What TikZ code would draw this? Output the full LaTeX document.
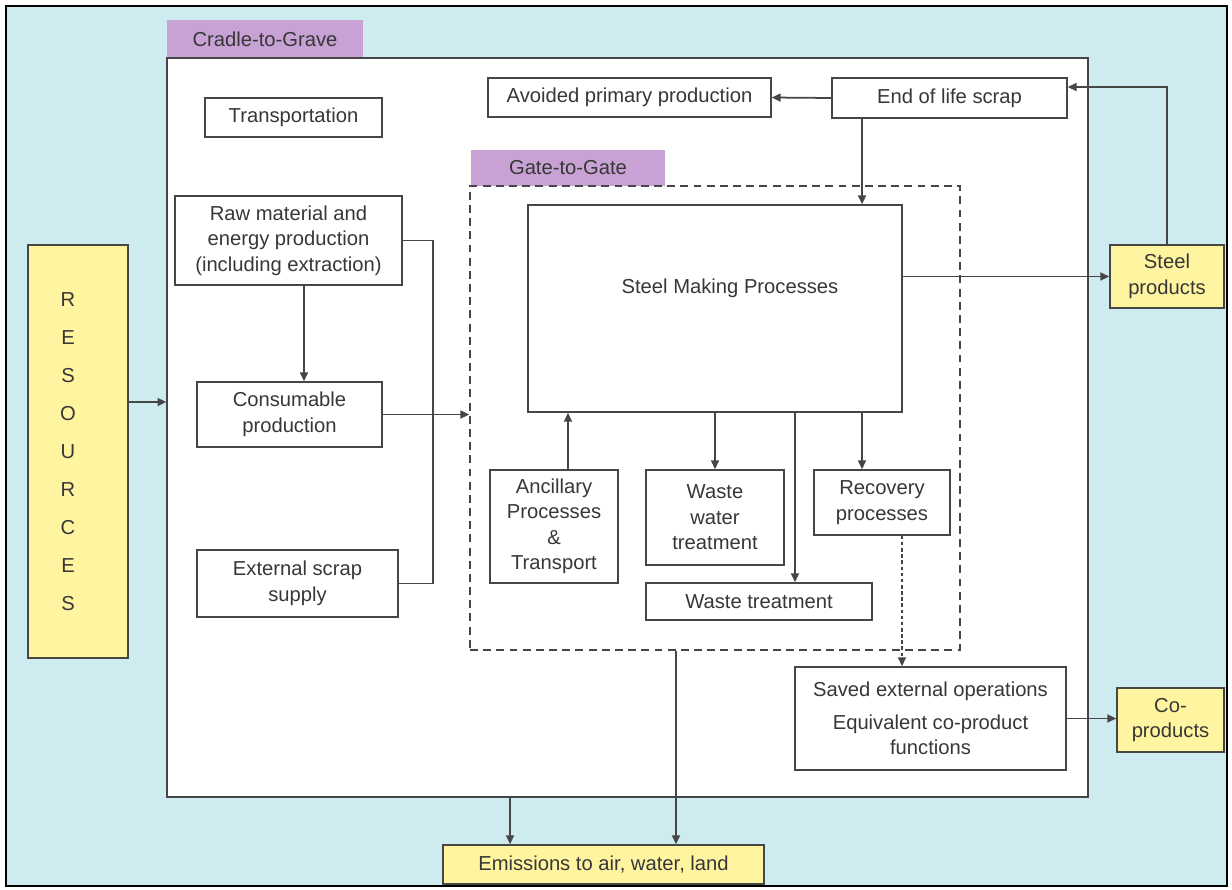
\documentclass[tikz,border=0pt]{standalone}
\usepackage{fontspec}
\setmainfont{Liberation Sans}
\usetikzlibrary{arrows.meta}
\definecolor{bgcyan}{RGB}{206,236,240}
\definecolor{tabpurple}{RGB}{200,162,212}
\definecolor{resyellow}{RGB}{255,244,160}
\definecolor{linegray}{RGB}{70,70,70}
\definecolor{txtgray}{RGB}{55,55,55}
\tikzset{
  box/.style={draw=linegray, line width=0.9pt, fill=white, align=center, inner sep=2pt, text=txtgray},
  ybox/.style={box, fill=resyellow},
  tab/.style={fill=tabpurple, text=txtgray, inner sep=0pt},
  conn/.style={draw=linegray, line width=1pt},
  arr/.style={conn, -{Triangle[length=5pt,width=4.5pt]}}
}
\begin{document}
\begin{tikzpicture}[x=0.02cm, y=-0.02cm, every node/.style={font=\fontsize{11.5}{14.5}\selectfont}]
	\useasboundingbox (0,0) rectangle (1232,890);
	\fill[white] (0,0) rectangle (1232,890);
	\filldraw[bgcyan, draw=black, line width=1pt] (6,6) rectangle (1227,886);

	\node[tab, minimum width=3.92cm, minimum height=0.76cm] (cgtab) at (265,39) {Cradle-to-Grave};
	\node[box, minimum width=18.42cm, minimum height=14.78cm] (cradle) at (627.5,427.5) {};
	\node[tab, minimum width=3.88cm, minimum height=0.72cm] (ggtab) at (568,168) {Gate-to-Gate};
	\node[draw=linegray, line width=0.9pt, dash pattern=on 4.5pt off 3pt, minimum width=9.8cm, minimum height=9.28cm] (gate) at (715,418) {};

	\node[ybox, minimum width=2cm, minimum height=8.26cm,
	      label={[xshift=-0.2cm, text=txtgray, align=center, font=\fontsize{11.5}{21.6}\selectfont]center:R\\E\\S\\O\\U\\R\\C\\E\\S}] (res) at (78,451.5) {};
	\node[box, minimum width=3.54cm, minimum height=0.78cm] (trans) at (293.5,117.5) {Transportation};
	\node[box, minimum width=4.54cm, minimum height=1.78cm] (raw) at (288.5,240.5) {Raw material and\\energy production\\(including extraction)};
	\node[box, minimum width=3.7cm, minimum height=1.3cm] (cons) at (289.5,414.5) {Consumable\\production};
	\node[box, minimum width=4.02cm, minimum height=1.34cm] (ext) at (297.5,583.5) {External scrap\\supply};
	\node[box, minimum width=5.66cm, minimum height=0.78cm] (avoided) at (629.5,97.5) {Avoided primary production};
	\node[box, minimum width=4.7cm, minimum height=0.8cm] (eol) at (949.5,98) {End of life scrap};
	\node[box, minimum width=7.48cm, minimum height=4.14cm,
	      label={[xshift=0.3cm, yshift=0.41cm, text=txtgray]center:Steel Making Processes}] (steel) at (715,308.5) {};
	\node[box, minimum width=2.56cm, minimum height=2.26cm] (anc) at (554,526.5) {Ancillary\\Processes\\\&\\Transport};
	\node[box, minimum width=2.76cm, minimum height=1.9cm] (ww) at (715,517.5) {Waste\\water\\treatment};
	\node[box, minimum width=4.52cm, minimum height=0.74cm] (wt) at (759,601.5) {Waste treatment};
	\node[box, minimum width=2.72cm, minimum height=1.3cm] (rec) at (882,502.5) {Recovery\\processes};
	\node[box, minimum width=5.42cm, minimum height=2.06cm] (saved) at (930.5,718.5) {Saved external operations\\[4pt]Equivalent co-product\\functions};
	\node[ybox, minimum width=2.28cm, minimum height=1.26cm] (sp) at (1167,276.5) {Steel\\products};
	\node[ybox, minimum width=2.14cm, minimum height=1.28cm] (cop) at (1170.5,720) {Co-\\products};
	\node[ybox, minimum width=6.42cm, minimum height=0.78cm] (emis) at (603.5,864.5) {Emissions to air, water, land};

	\coordinate (resout) at ([yshift=0.99cm]res.east);
	\coordinate (rawout) at ([xshift=0.31cm]raw.south);
	\coordinate (eolout) at ([xshift=-1.75cm]eol.south);
	\coordinate (eolin) at ([yshift=0.22cm]eol.east);
	\coordinate (ancout) at ([xshift=0.28cm]anc.north);
	\coordinate (wtin) at ([xshift=0.72cm]wt.north);
	\coordinate (recin) at ([xshift=-0.4cm]rec.north);
	\coordinate (recout) at ([xshift=0.4cm]rec.south);
	\coordinate (emisa) at ([xshift=-1.87cm]emis.north);
	\coordinate (emisb) at ([xshift=1.45cm]emis.north);

	\draw[arr] (resout) -- (resout -| cradle.west);
	\draw[arr] (rawout) -- (rawout |- cons.north);
	\draw[conn] (raw.east) -- ++(30,0) |- (ext.east);
	\draw[arr] (cons.east) -- (cons.east -| gate.west);
	\draw[arr] (eol.west) -- (avoided.east);
	\draw[arr] (eolout) -- (eolout |- steel.north);
	\draw[arr] (sp.west -| steel.east) -- (sp.west);
	\draw[arr] (sp.north) |- (eolin);
	\draw[arr] (ancout) -- (ancout |- steel.south);
	\draw[arr] (ww.north |- steel.south) -- (ww.north);
	\draw[arr] (wtin |- steel.south) -- (wtin);
	\draw[arr] (recin |- steel.south) -- (recin);
	\draw[arr, dash pattern=on 2pt off 1.5pt] (recout) -- (recout |- saved.north);
	\draw[arr] (saved.east) -- (saved.east -| cop.west);
	\draw[arr] (emisa |- cradle.south) -- (emisa);
	\draw[arr] (emisb |- gate.south) -- (emisb);
\end{tikzpicture}
\end{document}
